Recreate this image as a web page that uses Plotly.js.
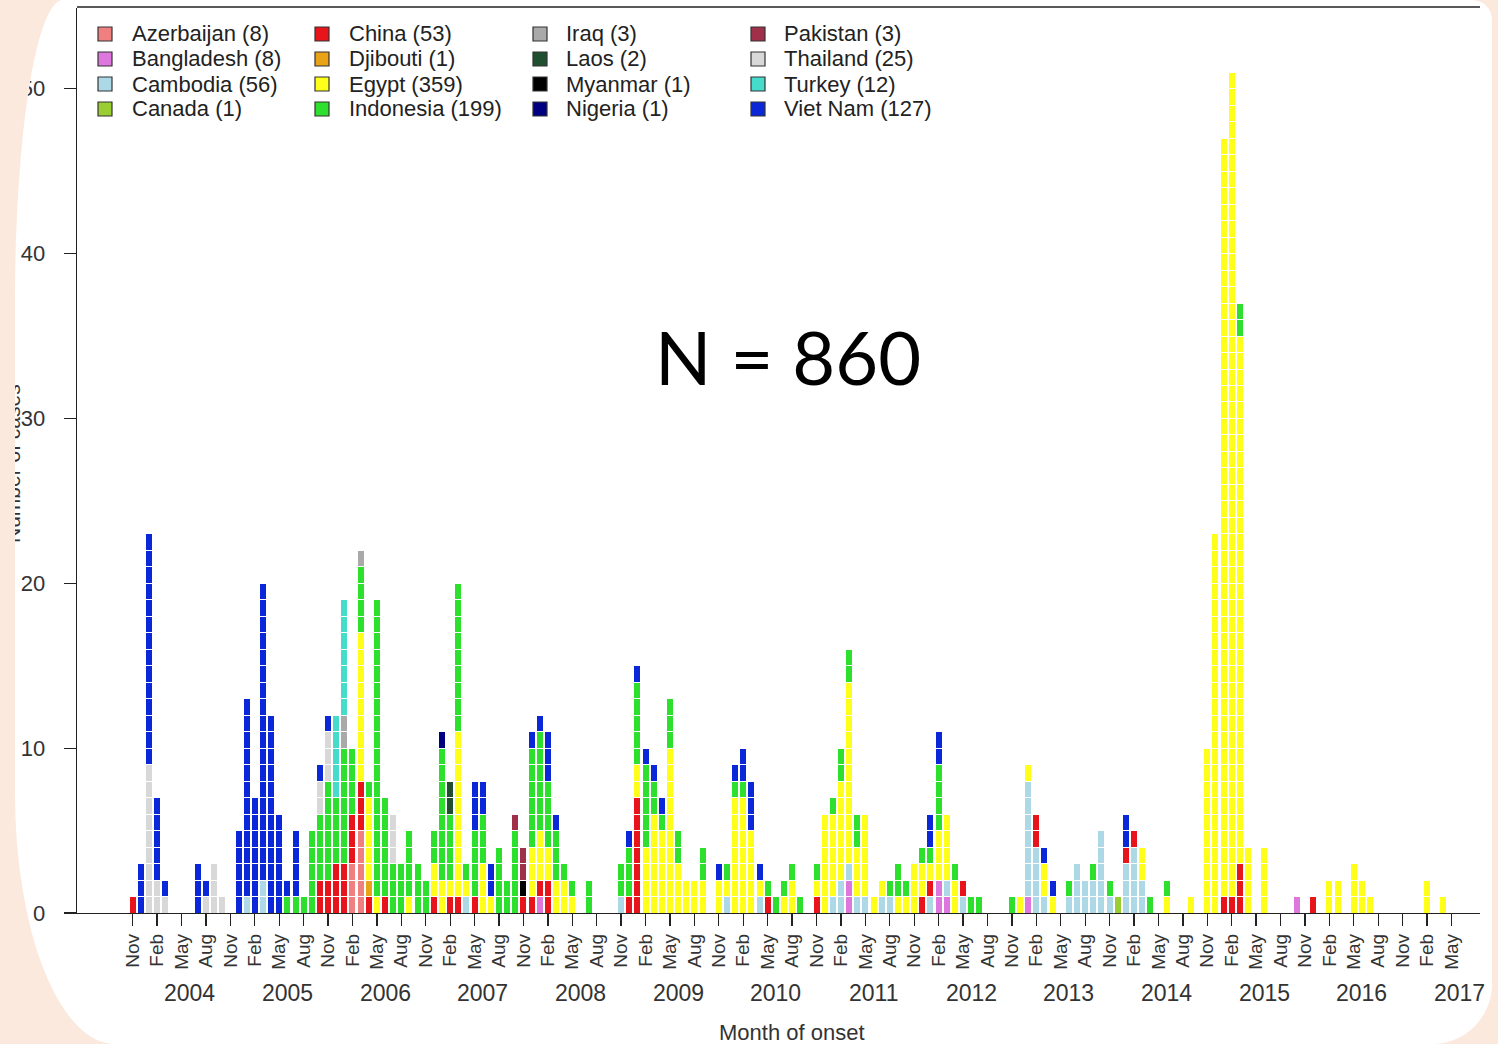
<!DOCTYPE html>
<html>
<head>
<meta charset="utf-8">
<script src="https://cdn.plot.ly/plotly-3.0.1.min.js"></script>
<style>
html,body{margin:0;padding:0;background:#fce9dd;width:1498px;height:1044px;overflow:hidden;}
#card{position:absolute;left:15px;top:0px;width:1477px;height:1044px;background:#ffffff;overflow:hidden;
  border-radius:48px 20px 60px 100px / 300px 20px 60px 250px;}
#chart{position:absolute;left:-15px;top:0px;width:1498px;height:1044px;}
</style>
</head>
<body>
<div id="card"><div id="chart"></div></div>
<script>
// ---- Data: cases by month of onset (YYYY-MM, number of cases) ----
const countries = ['Azerbaijan','Bangladesh','Cambodia','Canada','China','Djibouti','Egypt','Indonesia',
                   'Iraq','Laos','Myanmar','Nigeria','Pakistan','Thailand','Turkey','Viet Nam'];
const legendTotals = [8, 8, 56, 1, 53, 1, 359, 199, 3, 2, 1, 1, 3, 25, 12, 127];
const colors = ['#f08080','#dd77dd','#add8e6','#9acd32','#e8141b','#e8a317','#ffff1a','#2ee02e',
                '#a9a9a9','#1f4f2f','#000000','#000080','#a0304a','#d8d8d8','#45dccc','#0a28d8'];

const azerbaijan = [['2006-02',3],['2006-03',5]];
const bangladesh = [['2008-01',1],['2011-03',2],['2012-02',2],['2012-03',1],['2013-01',1],['2015-10',1]];
const cambodia = [['2005-01',1],['2005-03',2],['2007-04',1],['2008-11',1],['2009-12',1],['2010-04',1],
  ['2011-01',1],['2011-02',2],['2011-03',1],['2011-04',1],['2011-05',1],['2011-07',1],['2011-08',1],
  ['2012-01',1],['2012-03',1],['2012-05',1],['2013-01',7],['2013-02',4],['2013-03',1],['2013-06',1],
  ['2013-07',3],['2013-08',2],['2013-09',2],['2013-10',5],['2013-11',1],['2014-01',3],['2014-02',4],['2014-03',2]];
const canada = [['2013-12',1]];
const china = [['2003-11',1],['2005-10',2],['2005-11',2],['2005-12',3],['2006-01',3],['2006-02',3],['2006-03',3],
  ['2006-04',1],['2006-06',1],['2006-12',1],['2007-02',1],['2007-03',1],['2007-05',1],['2007-11',1],['2007-12',1],
  ['2008-01',1],['2008-02',2],['2008-12',1],['2009-01',7],['2010-05',1],['2010-11',1],['2011-12',1],['2012-01',1],
  ['2012-05',1],['2013-02',2],['2014-01',1],['2014-02',1],['2015-01',1],['2015-02',1],['2015-03',3],['2015-12',1]];
const djibouti = [['2006-04',1]];
const egypt = [['2006-03',9],['2006-04',5],['2006-05',1],['2006-09',1],['2006-12',2],['2007-01',2],['2007-02',1],
  ['2007-03',10],['2007-04',1],['2007-06',3],['2007-07',1],['2007-12',3],['2008-01',3],['2008-02',2],['2008-03',2],
  ['2008-04',2],['2008-05',1],['2009-01',2],['2009-02',4],['2009-03',6],['2009-04',5],['2009-05',10],['2009-06',3],
  ['2009-07',2],['2009-08',2],['2009-09',2],['2009-11',2],['2009-12',1],['2010-01',7],['2010-02',7],['2010-03',5],
  ['2010-04',1],['2010-07',1],['2010-08',2],['2010-11',1],['2010-12',6],['2011-01',5],['2011-02',6],['2011-03',11],
  ['2011-04',3],['2011-05',5],['2011-06',1],['2011-07',1],['2011-09',1],['2011-10',1],['2011-11',3],['2011-12',2],
  ['2012-01',1],['2012-02',3],['2012-03',4],['2012-04',2],['2012-12',1],['2013-01',1],['2013-03',2],['2013-04',1],
  ['2014-03',2],['2014-06',1],['2014-09',1],['2014-11',10],['2014-12',23],['2015-01',46],['2015-02',50],
  ['2015-03',32],['2015-04',4],['2015-06',4],['2016-02',2],['2016-03',2],['2016-05',3],['2016-06',2],['2016-07',1],
  ['2017-02',2],['2017-04',1]];
const indonesia = [['2005-06',1],['2005-07',1],['2005-08',1],['2005-09',5],['2005-10',4],['2005-11',6],['2005-12',4],
  ['2006-01',7],['2006-02',4],['2006-03',4],['2006-04',1],['2006-05',18],['2006-06',6],['2006-07',3],['2006-08',3],
  ['2006-09',4],['2006-10',3],['2006-11',2],['2006-12',2],['2007-01',8],['2007-02',4],['2007-03',9],['2007-04',1],
  ['2007-05',4],['2007-06',3],['2007-08',4],['2007-09',2],['2007-10',5],['2007-12',6],['2008-01',6],['2008-02',4],
  ['2008-03',3],['2008-04',1],['2008-05',1],['2008-07',2],['2008-11',2],['2008-12',3],['2009-01',5],['2009-02',5],
  ['2009-03',2],['2009-04',1],['2009-05',3],['2009-06',2],['2009-09',2],['2009-12',1],['2010-01',1],['2010-02',1],
  ['2010-05',1],['2010-06',1],['2010-07',1],['2010-08',1],['2010-09',1],['2010-11',1],['2011-01',1],['2011-02',2],
  ['2011-03',2],['2011-04',2],['2011-08',1],['2011-09',2],['2011-10',1],['2011-12',1],['2012-01',1],['2012-02',4],
  ['2012-04',1],['2012-06',1],['2012-07',1],['2012-11',1],['2013-06',1],['2013-09',1],['2013-11',1],['2014-04',1],
  ['2014-06',1],['2015-03',2]];
const iraq = [['2006-01',2],['2006-03',1]];
const laos = [['2007-02',2]];
const myanmar = [['2007-11',1]];
const nigeria = [['2007-01',1]];
const pakistan = [['2007-10',1],['2007-11',2]];
const thailand = [['2004-01',9],['2004-02',2],['2004-03',1],['2004-08',1],['2004-09',3],['2004-10',1],
  ['2005-10',2],['2005-11',3],['2006-07',3]];
const turkey = [['2005-12',5],['2006-01',7]];
const vietNam = [['2003-12',3],['2004-01',14],['2004-02',5],['2004-03',1],['2004-07',3],['2004-08',1],['2004-12',5],
  ['2005-01',12],['2005-02',7],['2005-03',18],['2005-04',12],['2005-05',6],['2005-06',1],['2005-07',4],['2005-10',1],
  ['2005-11',1],['2007-05',3],['2007-06',2],['2007-07',2],['2007-12',1],['2008-01',1],['2008-02',3],['2008-03',1],
  ['2008-12',1],['2009-01',1],['2009-02',1],['2009-03',1],['2009-04',1],['2009-11',1],['2010-01',1],['2010-02',2],
  ['2010-03',3],['2010-04',1],['2012-01',2],['2012-02',2],['2013-03',1],['2013-04',1],['2014-01',2]];

const seriesByCountry = [azerbaijan, bangladesh, cambodia, canada, china, djibouti, egypt, indonesia,
                         iraq, laos, myanmar, nigeria, pakistan, thailand, turkey, vietNam];

const tickMonths = ['Nov','Feb','May','Aug'];
const yearLabels = ['2004','2005','2006','2007','2008','2009','2010','2011','2012','2013','2014','2015','2016','2017'];
const firstMonth = {year: 2003, month: 11};
const lastTickIndex = 162;

// ---- helpers ----
function monthIndex(key) {
  const [y, m] = key.split('-').map(Number);
  return (y - firstMonth.year) * 12 + (m - firstMonth.month);
}
// one unit block per case, stacked
const traces = seriesByCountry.map((series, i) => {
  const xs = [], ys = [];
  series.forEach(([key, n]) => { for (let k = 0; k < n; k++) { xs.push(monthIndex(key)); ys.push(1); } });
  return {
    type: 'bar', name: countries[i], x: xs, y: ys, width: 0.86,
    marker: {color: colors[i], line: {color: '#ffffff', width: 1}},
    hoverinfo: 'skip', showlegend: false
  };
});

// layout geometry (page pixels)
const W = 1498, H = 1044, L = 77, R = 18, T = 8, B = 131;
const PW = W - L - R, PH = H - T - B;
const px2x = p => (p - L) / PW;
const px2y = p => (H - B - p) / PH;

const tickvals = [], ticktext = [];
for (let v = 0, k = 0; v <= lastTickIndex; v += 3, k++) { tickvals.push(v); ticktext.push(tickMonths[k % 4]); }

const font = 'Liberation Sans, Arial, sans-serif';
const annotations = [];
const shapes = [];

yearLabels.forEach(yl => {
  annotations.push({x: monthIndex(yl + '-06'), xref: 'x', y: px2y(993), yref: 'paper', text: yl,
    showarrow: false, xanchor: 'center', yanchor: 'middle', font: {family: font, size: 23, color: '#333'}});
});
annotations.push({x: px2x(792), xref: 'paper', y: px2y(1032), yref: 'paper', text: 'Month of onset',
  showarrow: false, xanchor: 'center', yanchor: 'middle', font: {family: font, size: 22, color: '#333'}});
annotations.push({x: px2x(13), xref: 'paper', y: px2y(464), yref: 'paper', text: 'Number of cases',
  textangle: -90, showarrow: false, xanchor: 'center', yanchor: 'middle', font: {family: font, size: 21, color: '#333'}});
annotations.push({x: px2x(788), xref: 'paper', y: px2y(356), yref: 'paper', text: 'N = 860',
  showarrow: false, xanchor: 'center', yanchor: 'middle', font: {family: 'Lato, Open Sans, sans-serif', size: 74, color: '#000'}});

// legend: 4 columns x 4 rows, column-major
const colSwatch = [105, 322, 540, 758], colText = [130, 347, 564, 782], rowY = [34, 59, 84, 109];
countries.forEach((c, i) => {
  const col = Math.floor(i / 4), row = i % 4;
  const cx = colSwatch[col], cy = rowY[row];
  shapes.push({type: 'rect', xref: 'paper', yref: 'paper', x0: px2x(cx - 7), x1: px2x(cx + 7),
    y0: px2y(cy + 7), y1: px2y(cy - 7), fillcolor: colors[i], line: {color: '#333', width: 1.2}});
  annotations.push({x: px2x(colText[col]), xref: 'paper', y: px2y(cy), yref: 'paper',
    text: c + ' (' + legendTotals[i] + ')', showarrow: false, xanchor: 'left', yanchor: 'middle',
    font: {family: font, size: 22, color: '#222'}});
});
// top frame line
shapes.push({type: 'line', xref: 'paper', yref: 'paper', x0: 0, x1: 1, y0: px2y(7), y1: px2y(7),
  line: {color: '#222', width: 1.3}});

const layout = {
  width: W, height: H,
  margin: {l: L, r: R, t: T, b: B, pad: 0},
  paper_bgcolor: 'rgba(0,0,0,0)', plot_bgcolor: 'rgba(0,0,0,0)',
  barmode: 'stack', showlegend: false,
  font: {family: font, color: '#333'},
  xaxis: {range: [-6.84, 165.5], tickvals: tickvals, ticktext: ticktext, tickangle: -90,
    ticks: 'outside', ticklen: 12, tickwidth: 1.3, tickcolor: '#222',
    showline: true, linecolor: '#222', linewidth: 1.3, showgrid: false, zeroline: false,
    tickfont: {family: font, size: 19, color: '#333'}, fixedrange: true},
  yaxis: {range: [0, 54.9], tickvals: [0, 10, 20, 30, 40, 50], ticks: 'outside', ticklen: 12, tickwidth: 1.3,
    tickcolor: '#222', showline: true, linecolor: '#222', linewidth: 1.3, showgrid: false, zeroline: false,
    tickfont: {family: font, size: 22, color: '#333'}, ticklabelstandoff: 14, fixedrange: true},
  annotations: annotations, shapes: shapes
};

Plotly.newPlot('chart', traces, layout, {displayModeBar: false, staticPlot: true});
</script>
</body>
</html>
